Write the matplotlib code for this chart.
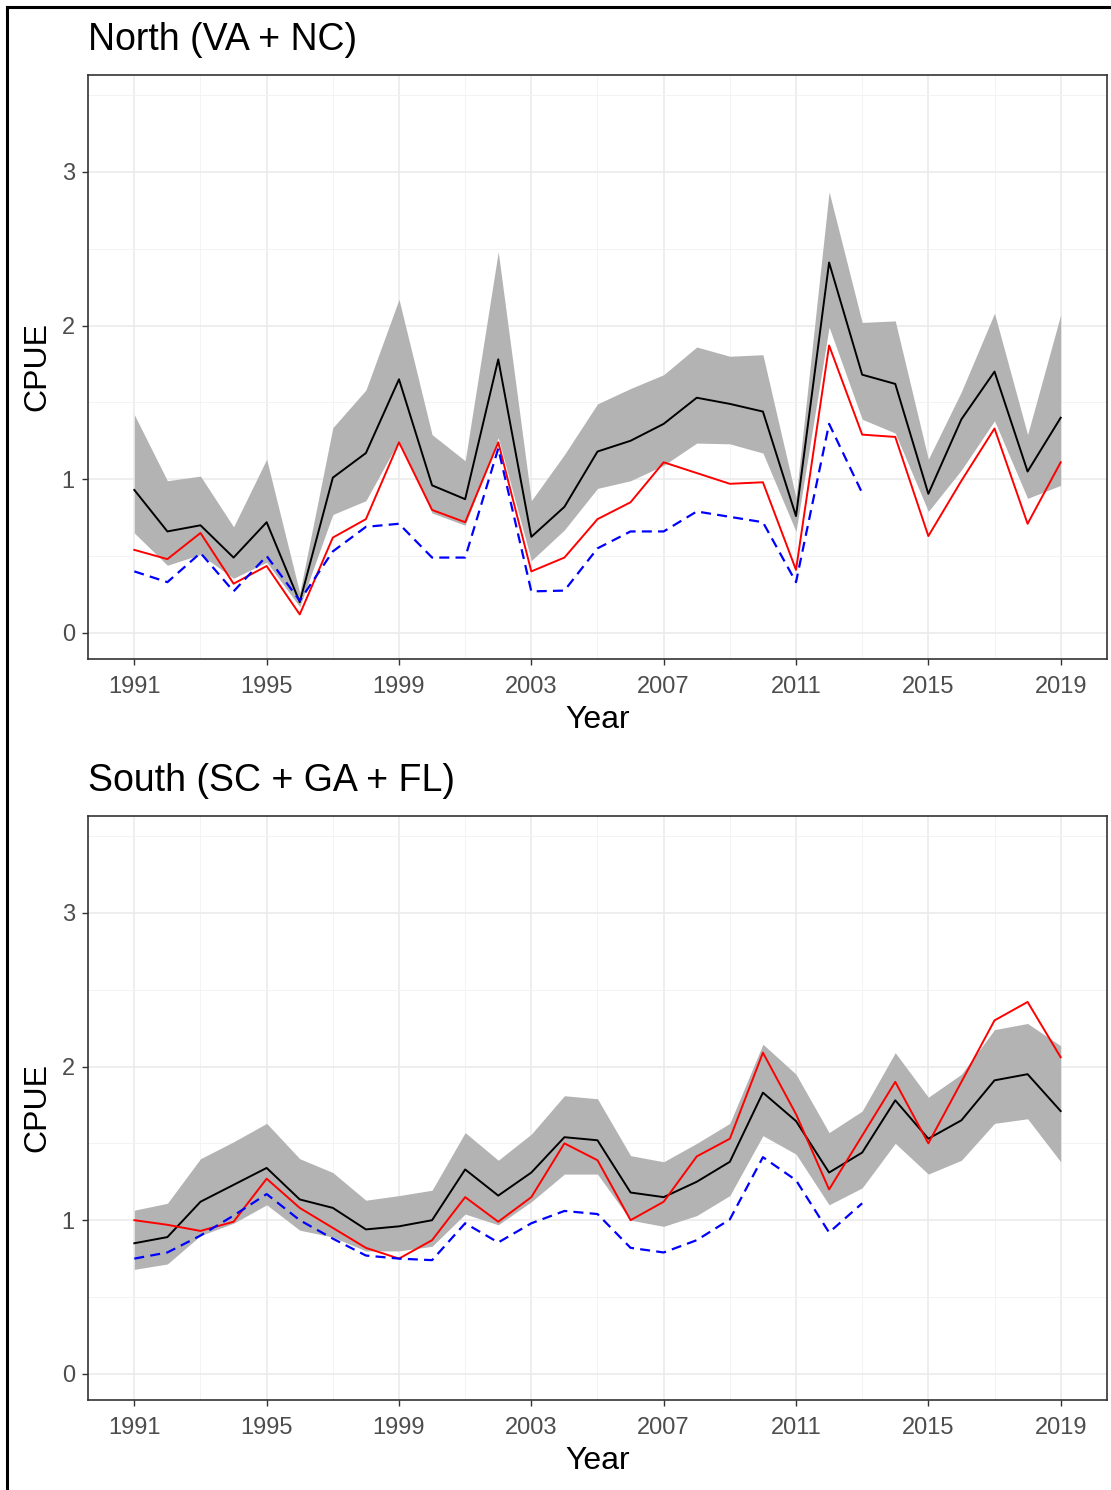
import matplotlib
matplotlib.use("Agg")
import matplotlib.pyplot as plt
from matplotlib.lines import Line2D

plt.rcParams['font.family'] = ['Liberation Sans', 'DejaVu Sans']

# Survey years and CPUE index series per region
years = list(range(1991, 2020))
years_nom = list(range(1991, 2014))

north_est = [0.93, 0.66, 0.70, 0.49, 0.72, 0.20, 1.01, 1.17, 1.65, 0.96,
             0.87, 1.78, 0.625, 0.82, 1.18, 1.25, 1.36, 1.53, 1.49, 1.44,
             0.76, 2.41, 1.68, 1.62, 0.905, 1.39, 1.70, 1.05, 1.40]
north_lo = [0.65, 0.44, 0.51, 0.355, 0.46, 0.17, 0.77, 0.86, 1.25, 0.78,
            0.70, 1.27, 0.47, 0.67, 0.94, 0.99, 1.09, 1.235, 1.23, 1.17,
            0.66, 1.99, 1.39, 1.30, 0.79, 1.06, 1.38, 0.875, 0.96]
north_hi = [1.42, 0.99, 1.02, 0.69, 1.13, 0.26, 1.335, 1.58, 2.17, 1.29,
            1.12, 2.48, 0.86, 1.16, 1.49, 1.59, 1.68, 1.86, 1.80, 1.81,
            0.88, 2.87, 2.02, 2.03, 1.13, 1.57, 2.08, 1.29, 2.07]
north_red = [0.54, 0.48, 0.65, 0.32, 0.435, 0.12, 0.62, 0.74, 1.24, 0.80,
             0.72, 1.24, 0.40, 0.49, 0.74, 0.85, 1.11, 1.04, 0.97, 0.98,
             0.41, 1.87, 1.29, 1.275, 0.63, 0.99, 1.33, 0.71, 1.11]
north_blue = [0.40, 0.33, 0.52, 0.27, 0.50, 0.21, 0.53, 0.69, 0.71, 0.49,
              0.49, 1.20, 0.27, 0.275, 0.55, 0.66, 0.66, 0.79, 0.755, 0.72,
              0.33, 1.36, 0.91]

south_est = [0.85, 0.89, 1.12, 1.23, 1.34, 1.135, 1.08, 0.94, 0.96, 1.00,
             1.33, 1.16, 1.31, 1.54, 1.52, 1.18, 1.15, 1.25, 1.38, 1.83,
             1.645, 1.31, 1.44, 1.78, 1.53, 1.65, 1.91, 1.95, 1.71]
south_lo = [0.68, 0.715, 0.90, 0.98, 1.10, 0.935, 0.89, 0.80, 0.80, 0.83,
            1.04, 0.97, 1.12, 1.30, 1.30, 1.00, 0.96, 1.03, 1.16, 1.55,
            1.43, 1.10, 1.21, 1.50, 1.30, 1.39, 1.63, 1.66, 1.38]
south_hi = [1.065, 1.11, 1.40, 1.51, 1.63, 1.40, 1.31, 1.13, 1.16, 1.195,
            1.57, 1.39, 1.56, 1.81, 1.79, 1.42, 1.38, 1.50, 1.63, 2.145,
            1.95, 1.57, 1.71, 2.09, 1.80, 1.95, 2.24, 2.28, 2.135]
south_red = [1.00, 0.97, 0.93, 0.99, 1.27, 1.08, 0.95, 0.82, 0.75, 0.87,
             1.15, 0.99, 1.15, 1.50, 1.39, 1.00, 1.12, 1.415, 1.53, 2.09,
             1.69, 1.20, 1.55, 1.90, 1.50, 1.90, 2.30, 2.42, 2.06]
south_blue = [0.75, 0.79, 0.90, 1.03, 1.17, 1.00, 0.88, 0.77, 0.75, 0.74,
              0.98, 0.855, 0.98, 1.06, 1.04, 0.82, 0.79, 0.87, 1.005, 1.41,
              1.26, 0.92, 1.11]

x_ticks = [1991, 1995, 1999, 2003, 2007, 2011, 2015, 2019]
x_minor = [1993, 1997, 2001, 2005, 2009, 2013, 2017]
y_ticks = [0, 1, 2, 3]
y_minor = [0.5, 1.5, 2.5, 3.5]

panels = [
    ("North (VA + NC)", north_est, north_lo, north_hi, north_red, north_blue),
    ("South (SC + GA + FL)", south_est, south_lo, south_hi, south_red, south_blue),
]

fig = plt.figure(figsize=(11.11, 14.90), dpi=100)
W, H = 1111, 1490

# panel boxes in pixels: left, top, right, bottom
boxes = [(88, 75, 1107, 659), (88, 816, 1107, 1400)]

for (title, est, lo, hi, red, blue), (l, t, r, b) in zip(panels, boxes):
    ax = fig.add_axes([l / W, 1 - b / H, (r - l) / W, (b - t) / H])
    ax.fill_between(years, lo, hi, color="#B3B3B3", linewidth=0, zorder=2)
    ax.plot(years, est, color="black", lw=1.4, zorder=3)
    ax.plot(years, red, color="#FF0000", lw=1.4, zorder=4)
    ax.plot(years_nom, blue, color="#0000FF", lw=1.6, dashes=(4.5, 2.8), zorder=5)

    ax.set_xlim(1989.6, 2020.4)
    ax.set_ylim(-0.17, 3.63)
    ax.set_xticks(x_ticks)
    ax.set_xticks(x_minor, minor=True)
    ax.set_yticks(y_ticks)
    ax.set_yticks(y_minor, minor=True)
    ax.grid(which="major", color="#EBEBEB", lw=1.2, zorder=0)
    ax.grid(which="minor", color="#F3F3F3", lw=0.7, zorder=0)
    ax.set_axisbelow(True)
    ax.tick_params(which="major", length=4.5, width=1.0, color="#333333",
                   labelsize=17, labelcolor="#4D4D4D")
    ax.tick_params(axis="x", which="major", pad=8)
    ax.tick_params(axis="y", which="major", pad=5)
    ax.tick_params(which="minor", length=0)
    for sp in ax.spines.values():
        sp.set_color("#333333")
        sp.set_linewidth(1.2)
    ax.set_xlabel("Year", fontsize=23, labelpad=5)
    ax.set_ylabel("CPUE", fontsize=23, labelpad=7)
    fig.text(l / W, 1 - (t - 35) / H, title, fontsize=27, ha="left", va="center")

# outer frame (left and top edges)
fig.add_artist(Line2D([7 / W, 7 / W], [0, 1 - 7 / H], color="black", lw=2.2,
                      transform=fig.transFigure))
fig.add_artist(Line2D([7 / W, 1], [1 - 7 / H, 1 - 7 / H], color="black", lw=2.2,
                      transform=fig.transFigure))

fig.savefig("out.png", dpi=100, facecolor="white")
